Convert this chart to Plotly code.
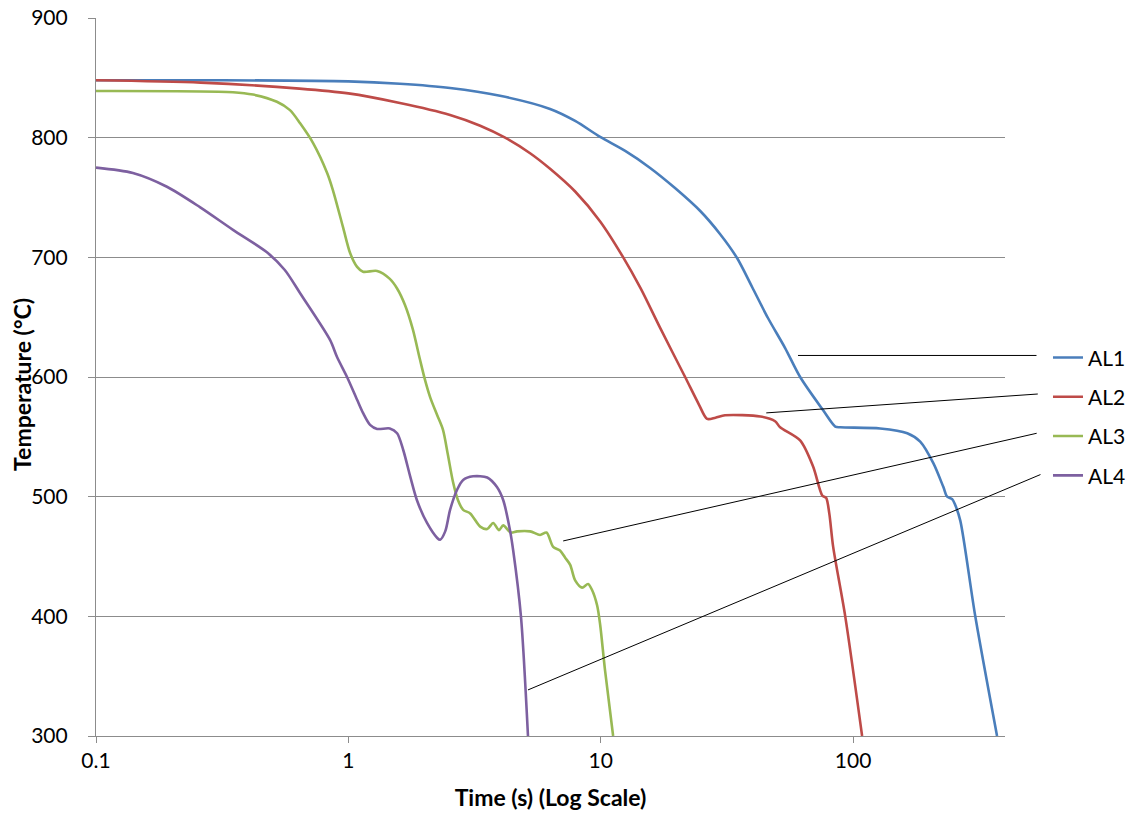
import numpy as np
import plotly.graph_objects as go

# ---- data ----
al1_t = [0.1, 0.3, 1.0, 1.60, 2.53, 3.99, 6.30, 7.92, 9.95, 12.5, 15.7, 19.7, 24.8, 29.7, 34.7,
         39.8, 46.0, 53.8, 61.7, 76.0, 85.0, 89.0, 128, 164, 184.5, 208, 228, 236, 247, 254, 266,
         305, 372]
al1_T = [848, 848, 847, 845, 841.5, 835, 824, 814, 800.6, 788.9, 774.7, 757.9, 738.7, 719.5, 699.4,
         675.2, 649.3, 624.2, 600, 572.4, 558.6, 558, 557, 553, 546, 528, 508, 500, 498, 493, 480,
         400, 300]

al2_t = [0.1, 0.26, 0.64, 1.0, 1.60, 2.53, 3.33, 4.18, 5.25, 6.30, 7.92, 9.95, 12.2, 14.4, 17.2,
         21.6, 24.5, 26.4, 28.5, 31.1, 42.9, 49.1, 51.4, 61.7, 69.5, 75.5, 78.2, 80.5, 83.4, 93.1,
         108.6]
al2_T = [848, 846, 841, 837, 829, 819, 810, 800, 787, 774, 755, 730, 701, 674, 641,
         600, 577, 565, 566, 568, 567, 563, 558, 547, 525, 501, 499, 486, 458, 400,
         300]

al3_t = [0.1, 0.349, 0.419, 0.521, 0.587, 0.644, 0.725, 0.824, 0.869, 0.953, 1.016,
         1.083, 1.143, 1.30, 1.46, 1.56, 1.678, 1.80, 1.92, 2.01, 2.11, 2.25, 2.37, 2.48, 2.60,
         2.72, 2.85, 3.04, 3.33, 3.55, 3.75, 3.95, 4.11, 4.40, 4.66, 5.25, 5.75, 6.10, 6.48, 6.90,
         7.23, 7.57, 7.92, 8.44, 8.91, 9.24, 9.68, 9.95, 10.4, 11.2]
al3_T = [839, 838, 836, 830, 823, 812, 795.5, 770.5, 756, 725, 703.6,
         692, 688, 688.6, 682, 674, 660, 640, 615, 598, 583, 568, 556, 535, 512,
         497, 489, 486, 475, 473, 478, 472, 476, 470, 471, 471, 468, 470, 458, 455,
         449, 443, 430, 424, 427, 422, 409, 393, 355, 300]

al4_t = [0.1, 0.140, 0.191, 0.258, 0.349, 0.477, 0.560, 0.644, 0.846, 0.902, 0.988, 1.083,
         1.143, 1.219, 1.30, 1.46, 1.56, 1.65, 1.76, 1.87, 2.05, 2.25, 2.31, 2.42, 2.53, 2.70,
         2.85, 3.12, 3.55, 3.88, 4.11, 4.37, 4.50, 4.83, 5.15]
al4_T = [775, 770.5, 759, 742, 723, 704, 689.4, 670, 631, 616.7, 600, 581,
         570, 560, 556.6, 557, 553, 539, 516.5, 497, 478, 465.5, 464, 471, 489, 506,
         514, 517, 516, 508, 497, 472, 455, 400, 300]

series_names = ["AL1", "AL2", "AL3", "AL4"]
series_colors = ["#4A7EBB", "#BE4B48", "#98B954", "#7D60A0"]

# leader lines: anchor point on each curve (data units)
leader_t = [60.5, 45.3, 7.1, 5.15]
leader_T = [618, 570, 463, 338.5]

x_tickvals = [0.1, 1, 10, 100]
x_ticktext = ["0.1", "1", "10", "100"]

FONT = "Lato"
GRID = "#8C8C8C"
NBSP = "\u00a0"

fig = go.Figure()
for name, t, T, c in zip(series_names, [al1_t, al2_t, al3_t, al4_t],
                         [al1_T, al2_T, al3_T, al4_T], series_colors):
    fig.add_trace(go.Scatter(x=t, y=T, mode="lines", name=name, legendgroup=name,
                             line=dict(color=c, width=2.6, shape="spline", smoothing=0.8)))

# leader line tails (pixel offsets toward the legend)
tail_offsets = [(240, 0), (273, -19), (475, -108), (514, -216)]
for t, T, (ax, ay) in zip(leader_t, leader_T, tail_offsets):
    fig.add_annotation(x=np.log10(t), y=T, xref="x", yref="y", text="",
                       showarrow=True, arrowhead=0, arrowwidth=1, arrowcolor="black",
                       ax=ax, ay=ay, standoff=0, startstandoff=0)

# y-axis title as a rotated annotation (precise placement)
fig.add_annotation(text="<b>Temperature (°C)</b>", xref="paper", yref="paper",
                   x=-0.0814, y=0.489, xanchor="center", yanchor="middle",
                   textangle=-90, showarrow=False,
                   font=dict(family=FONT, size=23, color="#000000"))

fig.update_layout(
    width=1133, height=814,
    margin=dict(l=96, r=128, t=18, b=78, autoexpand=False),
    paper_bgcolor="white", plot_bgcolor="white",
    font=dict(family=FONT, size=21, color="#000000"),
    showlegend=True,
    legend=dict(x=1.0473, xanchor="left", y=0.5553, yanchor="top",
                font=dict(family=FONT, size=21, color="#000000"),
                traceorder="grouped", tracegroupgap=9,
                bgcolor="rgba(0,0,0,0)", borderwidth=0),
    xaxis=dict(type="log", range=[-1, np.log10(400)], automargin=False,
               tickvals=x_tickvals, ticktext=x_ticktext,
               showgrid=False, showline=True, linecolor=GRID, linewidth=1,
               ticks="outside", ticklen=6, tickcolor=GRID,
               tickfont=dict(family=FONT, size=21),
               title=dict(text="<b>Time (s) (Log Scale)</b>", standoff=18,
                          font=dict(family=FONT, size=23)),
               zeroline=False),
    yaxis=dict(range=[300, 900], dtick=100, tick0=300, automargin=False,
               showgrid=True, gridcolor=GRID, gridwidth=1,
               showline=True, linecolor=GRID, linewidth=1,
               ticks="outside", ticklen=7, tickcolor=GRID,
               ticksuffix=NBSP * 3,
               tickfont=dict(family=FONT, size=21),
               zeroline=False),
)

fig.write_html("out.html")
